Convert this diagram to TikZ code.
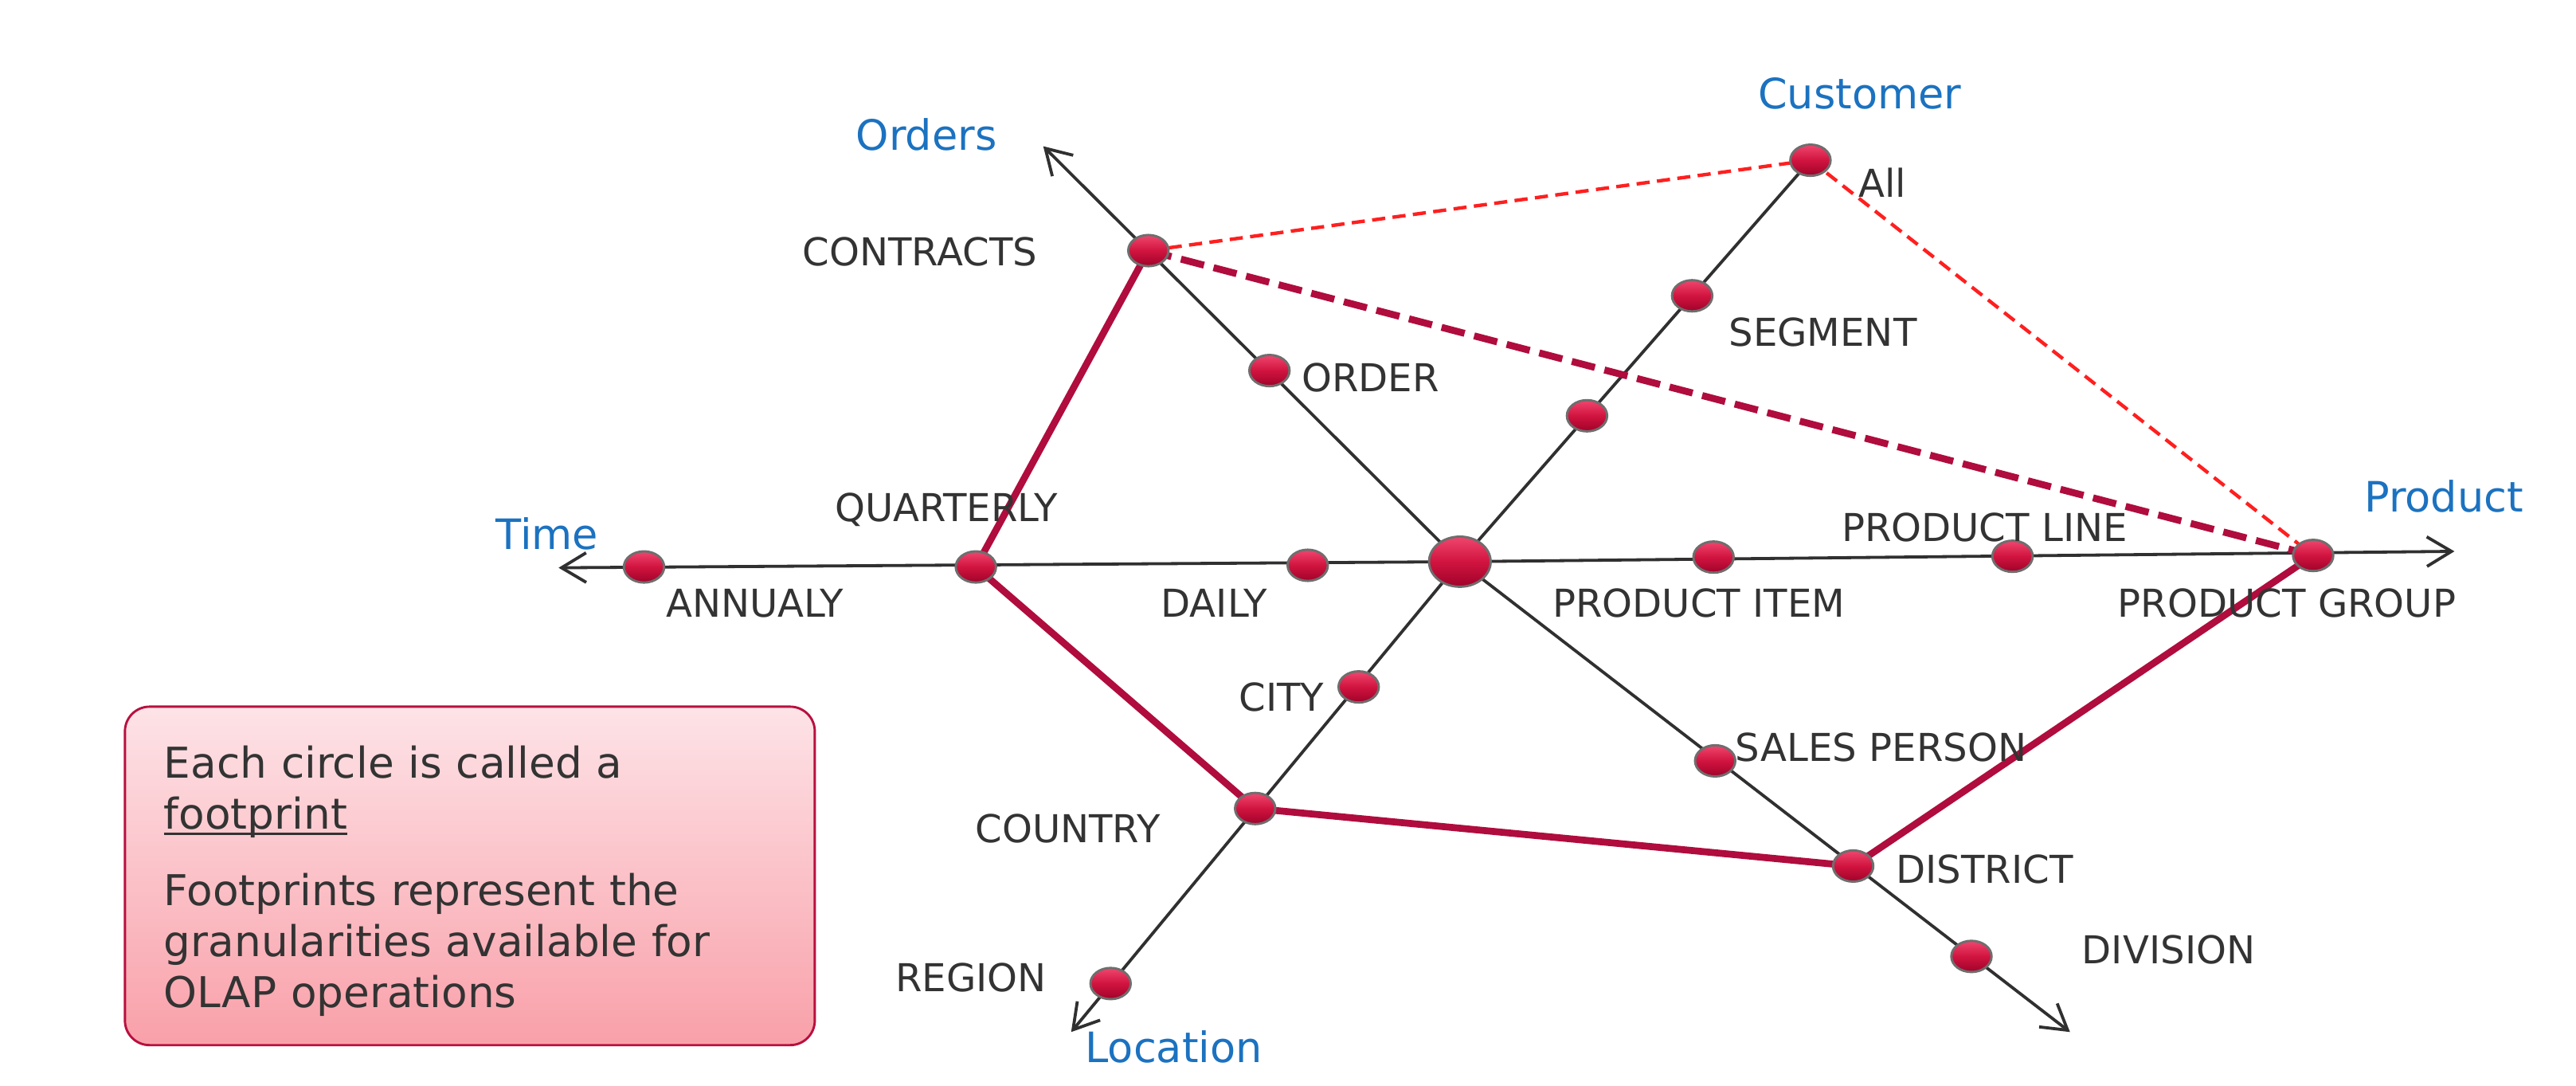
\documentclass[tikz,border=0pt]{standalone}
\usepackage{fontspec}
\setmainfont{DejaVu Sans}
\usetikzlibrary{arrows.meta,shapes.geometric,backgrounds}
\definecolor{txt}{HTML}{333333}
\definecolor{blu}{HTML}{1B72C0}
\definecolor{axisc}{HTML}{303030}
\definecolor{crim}{HTML}{B00C3D}
\definecolor{redd}{HTML}{FF1F1F}
\definecolor{fpborder}{HTML}{6E6E6E}
\definecolor{fptop}{HTML}{F0466E}
\definecolor{fpmid}{HTML}{D0143F}
\definecolor{fpbot}{HTML}{A0022A}
\definecolor{boxtop}{HTML}{FDE3E7}
\definecolor{boxbot}{HTML}{F9A0A9}
\definecolor{boxline}{HTML}{B8103F}
\newcommand\ulx[1]{\leavevmode\setbox0\hbox{#1}\rlap{\rule[-2pt]{\wd0}{0.75pt}}\box0}
\begin{document}
\begin{tikzpicture}[x=0.02cm,y=-0.02cm,
  fp/.style={ellipse, draw=fpborder, line width=0.8pt, top color=fptop, bottom color=fpbot, middle color=fpmid, minimum width=0.49cm, minimum height=0.38cm, inner sep=0pt},
  fpbig/.style={fp, minimum width=0.75cm, minimum height=0.61cm},
  lbl/.style={inner sep=0pt, text=txt, font=\fontsize{13.3}{16}\selectfont},
  ttl/.style={inner sep=0pt, text=blu, font=\fontsize{14.5}{17}\selectfont},
  axisline/.style={draw=axisc, line width=1.05pt},
  axisarrow/.style={axisline, -{Straight Barb[length=0.3cm,width=0.36cm,line width=1.05pt]}},
  redpath/.style={draw=crim, line width=2.4pt, line cap=round, line join=round},
  hintline/.style={draw=crim, line width=2.4pt, dash pattern=on 0.29cm off 0.12cm},
  dashthin/.style={draw=redd, line width=1.2pt, dash pattern=on 0.16cm off 0.09cm},
  notebox/.style={rounded corners=0.3cm, draw=boxline, line width=0.8pt, top color=boxtop, bottom color=boxbot, minimum width=8.4cm, minimum height=4.12cm, inner sep=0pt},
  notetxt/.style={inner sep=0pt, text=txt, text width=7.6cm, align=left, font=\fontsize{14.7}{17.65}\selectfont}
]
\useasboundingbox (0,0) rectangle (1568,660.4);

% footprints
\node[fpbig] (cen) at (888.6,341.8) {};
\node[fp] (ann) at (392,345) {};
\node[fp] (qua) at (594,345) {};
\node[fp] (dai) at (796,344) {};
\node[fp] (pit) at (1043,339) {};
\node[fp] (pli) at (1225,338.5) {};
\node[fp] (pgr) at (1408,338) {};
\node[fp] (con) at (699,152.5) {};
\node[fp] (ord) at (772.7,225.5) {};
\node[fp] (cu1) at (966,253) {};
\node[fp] (seg) at (1030,180) {};
\node[fp] (all) at (1102,97.5) {};
\node[fp] (cit) at (827,418) {};
\node[fp] (cou) at (764,492) {};
\node[fp] (reg) at (676,598.5) {};
\node[fp] (sal) at (1044,463) {};
\node[fp] (dis) at (1128,527) {};
\node[fp] (div) at (1200,582) {};

% axis ends
\coordinate (tTime) at (340,345.5);
\coordinate (tProd) at (1494,335.5);
\coordinate (tOrd) at (635,89);
\coordinate (tLoc) at (652,628);
\coordinate (tSal) at (1260,628);

\begin{pgfonlayer}{background}
\draw[axisarrow] (cen.center) -- (tTime);
\draw[axisarrow] (cen.center) -- (tProd);
\draw[axisarrow] (cen.center) -- (tOrd);
\draw[axisarrow] (cen.center) -- (tLoc);
\draw[axisarrow] (cen.center) -- (tSal);
\draw[axisline] (cen.center) -- (all.center);
\draw[dashthin] (con.center) -- (all.center);
\draw[dashthin] (all.center) -- (pgr.center);
\draw[hintline] (con.center) -- (pgr.center);
\draw[redpath] (con.center) -- (qua.center) -- (cou.center) -- (dis.center) -- (pgr.center);
\end{pgfonlayer}

% dimension titles
\node[ttl] (lOrders) at (564,82) {Orders};
\node[ttl] (lCustomer) at (1132,57) {Customer};
\node[ttl] (lTime) at (333,325) {Time};
\node[ttl] (lProduct) at (1487.5,302) {Product};
\node[ttl] (lLocation) at (714.5,637) {Location};

% level labels
\node[lbl] (tCon) at (560,153) {CONTRACTS};
\node[lbl, anchor=west] (tOrdr) at (792,230) {ORDER};
\node[lbl, anchor=west] (tSeg) at (1052,202) {SEGMENT};
\node[lbl, anchor=west] (tAll) at (1131,111) {All};
\node[lbl] (tQua) at (576,310) {QUARTERLY};
\node[lbl, anchor=west] (tAnn) at (405,367) {ANNUALY};
\node[lbl] (tDai) at (739,367) {DAILY};
\node[lbl] (tPit) at (1034,367) {PRODUCT ITEM};
\node[lbl] (tPli) at (1208,321) {PRODUCT LINE};
\node[lbl] (tPgr) at (1392,367) {PRODUCT GROUP};
\node[lbl] (tCit) at (780,424) {CITY};
\node[lbl] (tCou) at (650,504) {COUNTRY};
\node[lbl] (tReg) at (591,595) {REGION};
\node[lbl] (tSal) at (1145,455) {SALES PERSON};
\node[lbl] (tDis) at (1208,529) {DISTRICT};
\node[lbl] (tDiv) at (1320,578) {DIVISION};

% note box
\node[notebox] (note) at (286,533) {};
\node[notetxt, anchor=base west] (notetext) at (99.5,473.6) {Each circle is called a\\ \ulx{footprint}\\[0.308cm] Footprints represent the\\ granularities available for\\ OLAP operations};
\end{tikzpicture}
\end{document}
